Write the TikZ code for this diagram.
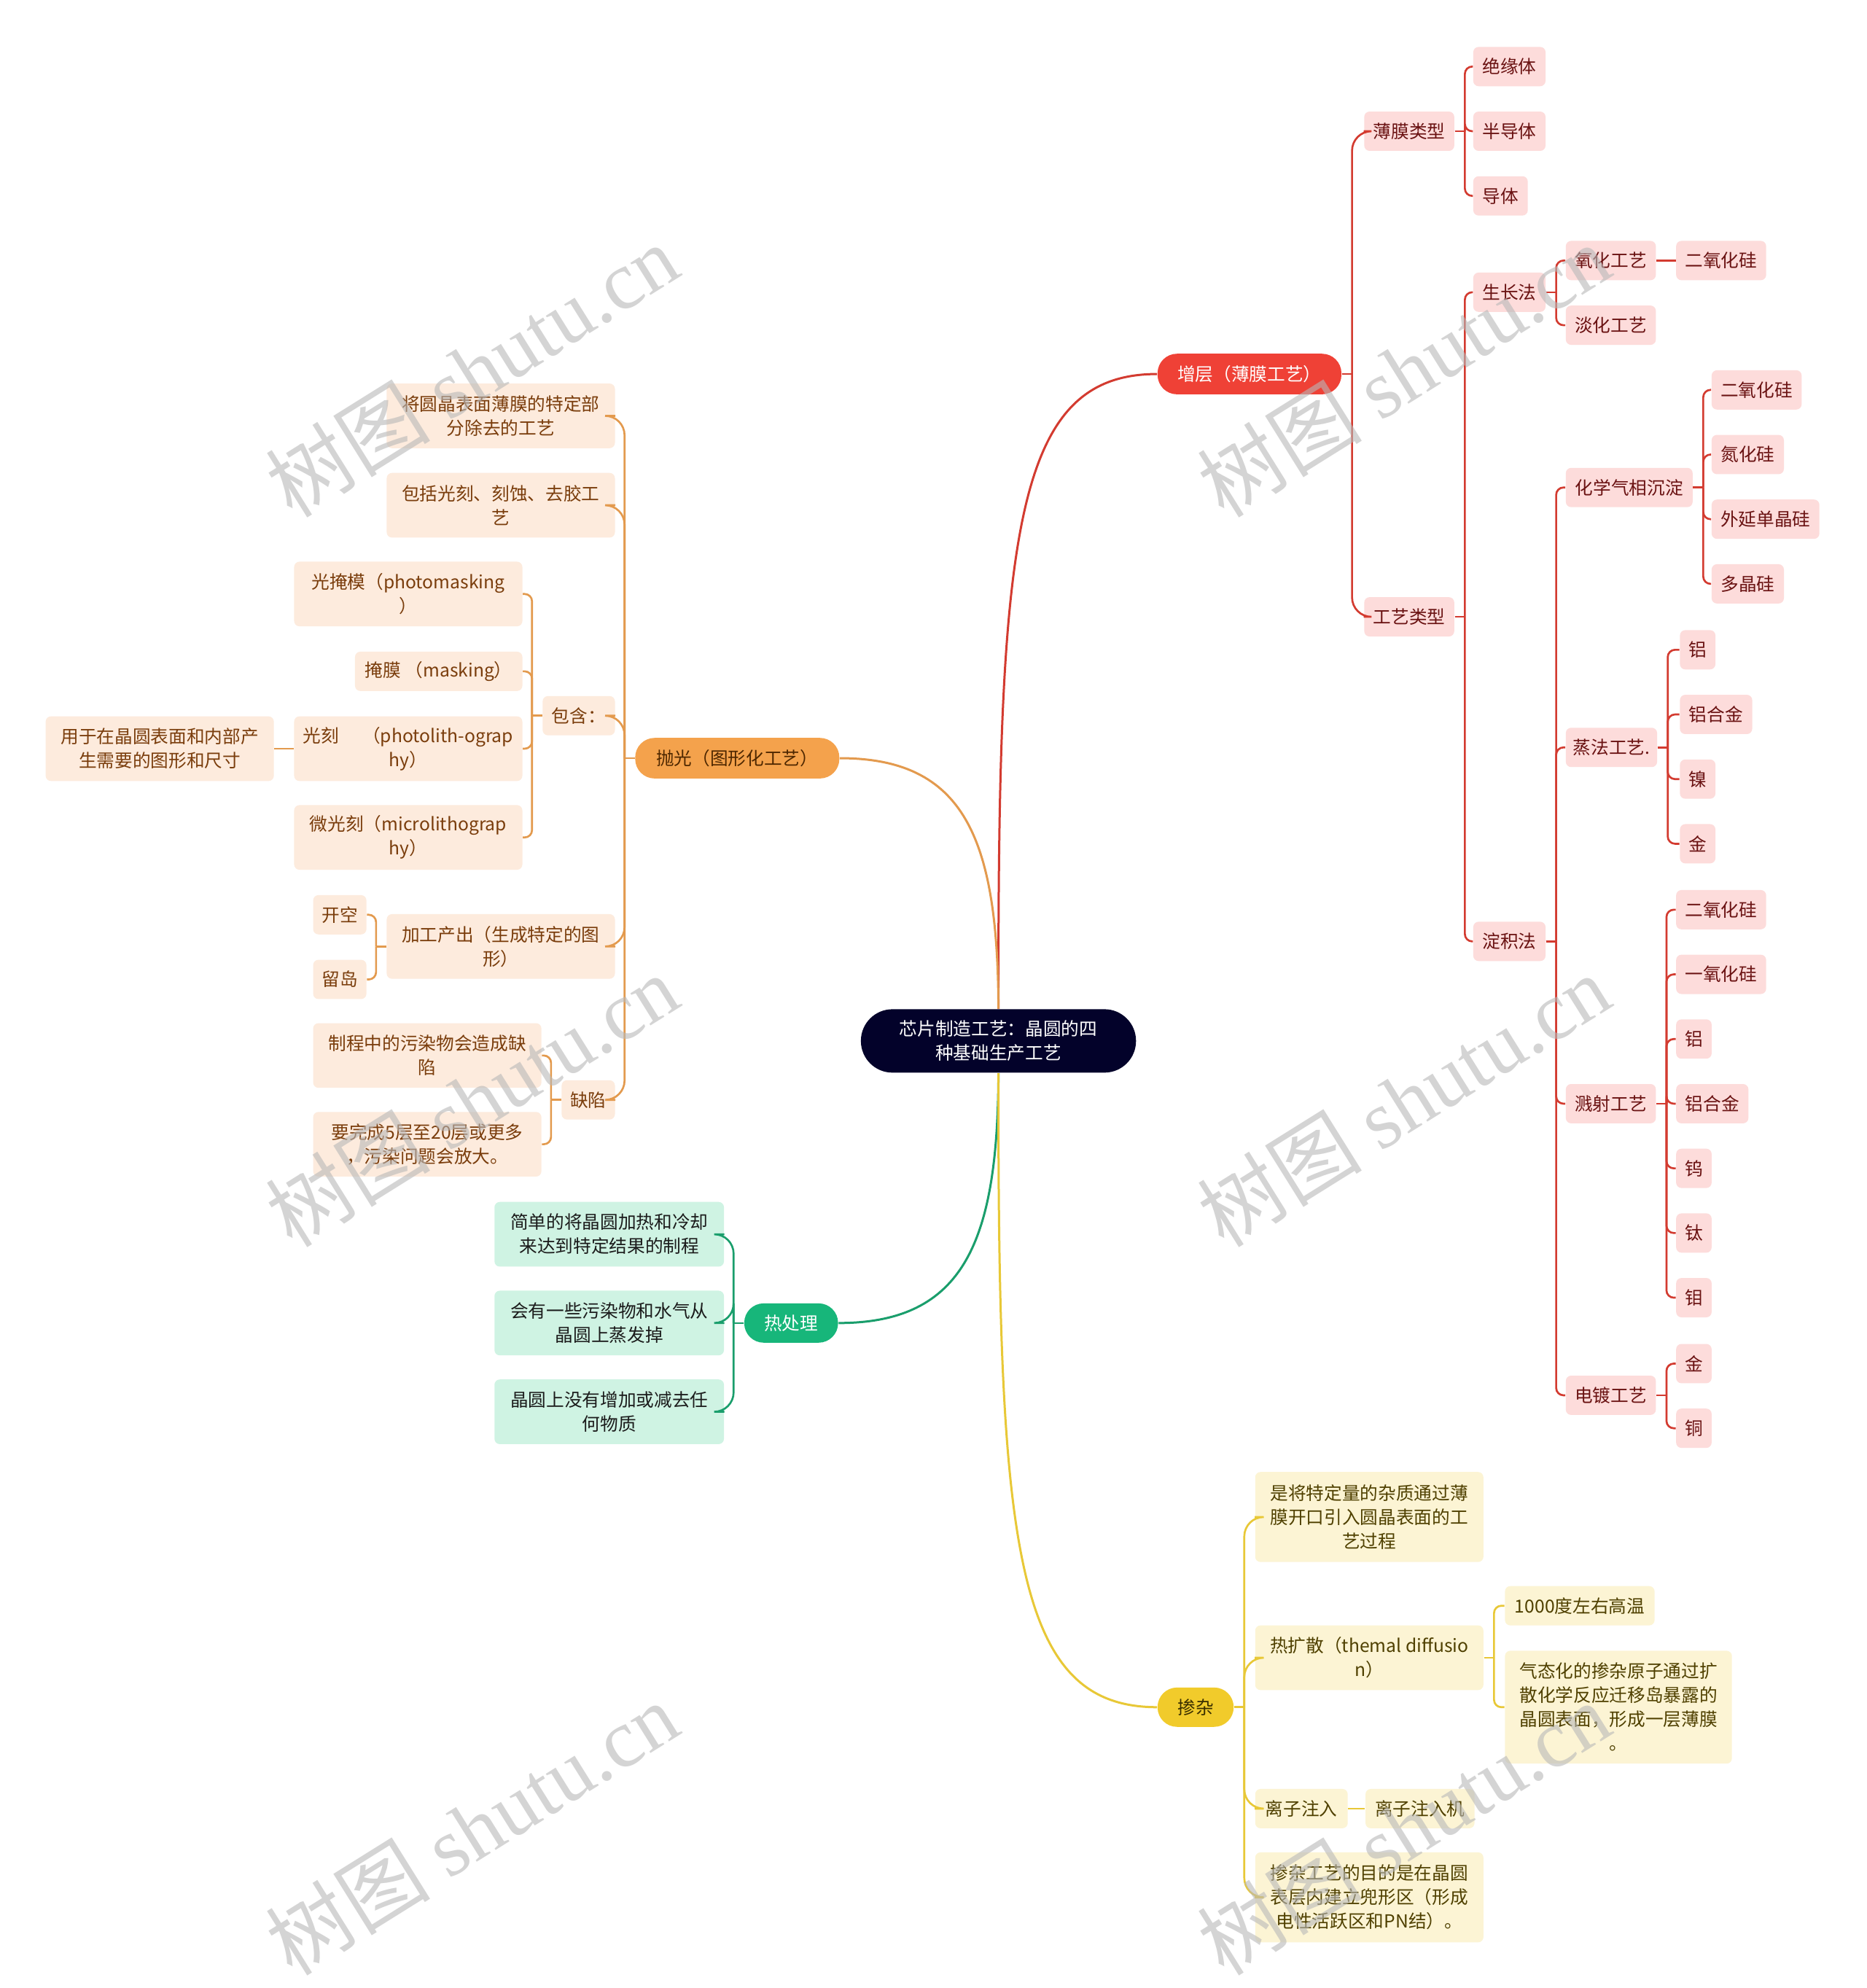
\documentclass[tikz,border=0pt]{standalone}
\usepackage{fontspec}
\setmainfont{Noto Sans CJK SC}
\newfontfamily\wmlat{Liberation Serif}
\usetikzlibrary{calc}
\definecolor{rootc}{HTML}{03022A}
\definecolor{rmain}{HTML}{EF4136}
\definecolor{rfill}{HTML}{FDDCDB}
\definecolor{rtxt}{HTML}{6A1212}
\definecolor{rline}{HTML}{D33B30}
\definecolor{omain}{HTML}{F4A24C}
\definecolor{ofill}{HTML}{FDEBDD}
\definecolor{otxt}{HTML}{7A3D0C}
\definecolor{oline}{HTML}{E39A4E}
\definecolor{omtxt}{HTML}{4E2700}
\definecolor{gmain}{HTML}{17B67A}
\definecolor{gfill}{HTML}{CFF3E3}
\definecolor{gtxt}{HTML}{1B1B1B}
\definecolor{gline}{HTML}{1A9E6C}
\definecolor{ymain}{HTML}{F1CB2B}
\definecolor{yfill}{HTML}{FCF4D4}
\definecolor{ytxt}{HTML}{4F4000}
\definecolor{yline}{HTML}{E8C837}
\definecolor{ymtxt}{HTML}{3A2F00}
\definecolor{wmc}{HTML}{B8B8B8}
\newcommand\nfs{\fontsize{7.4pt}{9.9pt}\selectfont}
\newcommand\lnkR[3]{\draw[#1] (#2.east) -- ++(8,0); \draw[#1] ($(#2.east)+(8,0)$) |- (#3.west);}
\newcommand\lnkL[3]{\draw[#1] (#2.west) -- ++(-8,0); \draw[#1] ($(#2.west)+(-8,0)$) |- (#3.east);}
\tikzset{
  base/.style={rectangle, rounded corners=2.2pt, inner sep=0pt, align=center, font=\nfs},
  rbox/.style={base, fill=rfill, text=rtxt},
  obox/.style={base, fill=ofill, text=otxt},
  gbox/.style={base, fill=gfill, text=gtxt},
  ybox/.style={base, fill=yfill, text=ytxt},
  mbox/.style={rectangle, rounded corners=8pt, inner sep=0pt, align=center, font=\nfs},
  bw/.style={minimum width=#1*0.52174pt},
  bh/.style={minimum height=#1*0.52174pt},
  rl/.style={draw=rline, line width=0.8pt, rounded corners=3pt},
  ol/.style={draw=oline, line width=0.8pt, rounded corners=3pt},
  gl/.style={draw=gline, line width=0.8pt, rounded corners=3pt},
  yl/.style={draw=yline, line width=0.8pt, rounded corners=3pt},
  rl1/.style={rl, rounded corners=8pt},
  ol1/.style={ol, rounded corners=8pt},
  gl1/.style={gl, rounded corners=8pt},
  yl1/.style={yl, rounded corners=8pt},
  wmark/.style={rotate=32, text=wmc, opacity=0.6, inner sep=0pt}
}
\begin{document}
\begin{tikzpicture}[x=0.52174pt,y=-0.52174pt]
\useasboundingbox[fill=white] (0,0) rectangle (1472,1568);

% root and main branches
\node[mbox, rounded corners=13pt, fill=rootc, text=white, bw=217, bh=50] (root) at (787.5,821) {芯片制造工艺：晶圆的四\\种基础生产工艺};
\node[mbox, fill=rmain, text=white, bw=145, bh=32] (zc) at (985.5,295) {增层（薄膜工艺）};
\node[mbox, fill=omain, text=omtxt, bw=161, bh=32] (pg) at (581.5,598) {抛光（图形化工艺）};
\node[mbox, fill=gmain, text=white, bw=74, bh=31] (rcl) at (624,1043.5) {热处理};
\node[mbox, fill=ymain, text=ymtxt, bw=60, bh=31] (cz) at (943,1346.5) {掺杂};

% red subtree
\node[rbox, bw=71, bh=31] (tm) at (1111.5,103.5) {薄膜类型};
\node[rbox, bw=57, bh=31] (jyt) at (1190.5,52.5) {绝缘体};
\node[rbox, bw=57, bh=31] (bdt) at (1190.5,103.5) {半导体};
\node[rbox, bw=43, bh=31] (dt) at (1183.5,154.5) {导体};
\node[rbox, bw=71, bh=31] (gylx) at (1111.5,486.5) {工艺类型};
\node[rbox, bw=57, bh=31] (szf) at (1190.5,230.5) {生长法};
\node[rbox, bw=71, bh=31] (yh) at (1270.5,205.5) {氧化工艺};
\node[rbox, bw=71, bh=31] (eyha) at (1357.5,205.5) {二氧化硅};
\node[rbox, bw=71, bh=31] (dh) at (1270.5,256.5) {淡化工艺};
\node[rbox, bw=57, bh=31] (djf) at (1190.5,742.5) {淀积法};
\node[rbox, bw=100, bh=31] (cvd) at (1285,384.5) {化学气相沉淀};
\node[rbox, bw=71, bh=31] (eyhb) at (1385.5,307.5) {二氧化硅};
\node[rbox, bw=57, bh=31] (dhg) at (1378.5,358.5) {氮化硅};
\node[rbox, bw=85, bh=31] (wy) at (1392.5,409.5) {外延单晶硅};
\node[rbox, bw=57, bh=31] (djg) at (1378.5,460.5) {多晶硅};
\node[rbox, bw=72, bh=31] (zf) at (1271,589.5) {蒸法工艺.};
\node[rbox, bw=28, bh=31] (lva) at (1339,512.5) {铝};
\node[rbox, bw=57, bh=31] (lhja) at (1353.5,563.5) {铝合金};
\node[rbox, bw=28, bh=31] (nie) at (1339,614.5) {镍};
\node[rbox, bw=28, bh=31] (jina) at (1339,665.5) {金};
\node[rbox, bw=71, bh=31] (js) at (1270.5,870.5) {溅射工艺};
\node[rbox, bw=71, bh=31] (eyhc) at (1357.5,717.5) {二氧化硅};
\node[rbox, bw=71, bh=31] (yyh) at (1357.5,768.5) {一氧化硅};
\node[rbox, bw=28, bh=31] (lvb) at (1336,819.5) {铝};
\node[rbox, bw=57, bh=31] (lhjb) at (1350.5,870.5) {铝合金};
\node[rbox, bw=28, bh=31] (wu) at (1336,921.5) {钨};
\node[rbox, bw=28, bh=31] (tai) at (1336,972.5) {钛};
\node[rbox, bw=28, bh=31] (mu) at (1336,1023.5) {钼};
\node[rbox, bw=71, bh=31] (dd) at (1270.5,1100.5) {电镀工艺};
\node[rbox, bw=28, bh=31] (jinb) at (1336,1075.5) {金};
\node[rbox, bw=28, bh=31] (tong) at (1336,1126.5) {铜};

% orange subtree
\node[obox, bw=180, bh=51] (oa) at (395,328) {将圆晶表面薄膜的特定部\\分除去的工艺};
\node[obox, bw=180, bh=51] (ob) at (395,398.5) {包括光刻、刻蚀、去胶工\\艺};
\node[obox, bw=57, bh=31] (bh) at (456.5,564.5) {包含：};
\node[obox, bw=180, bh=51] (gym) at (322,468.5) {光掩模（photomasking\\）};
\node[obox, bw=132, bh=31] (ym) at (346,529.5) {掩膜 （masking）};
\node[obox, bw=180, bh=51] (gk) at (322,590.5) {光刻\hspace{1.3em}（photolith-ograp\\hy）};
\node[obox, bw=180, bh=51] (yy) at (126,590.5) {用于在晶圆表面和内部产\\生需要的图形和尺寸};
\node[obox, bw=180, bh=51] (wgk) at (322,660.5) {微光刻（microlithograp\\hy）};
\node[obox, bw=180, bh=51] (jg) at (395,746.5) {加工产出（生成特定的图\\形）};
\node[obox, bw=42, bh=31] (kk) at (268,721.5) {开空};
\node[obox, bw=42, bh=31] (ld) at (268,772.5) {留岛};
\node[obox, bw=42, bh=31] (qx) at (464,867.5) {缺陷};
\node[obox, bw=180, bh=51] (qa) at (337,832.5) {制程中的污染物会造成缺\\陷};
\node[obox, bw=180, bh=51] (qb) at (337,902.5) {要完成5层至20层或更多\\，污染问题会放大。};

% green subtree
\node[gbox, bw=181, bh=51] (ga) at (480.5,973.5) {简单的将晶圆加热和冷却\\来达到特定结果的制程};
\node[gbox, bw=181, bh=51] (gb) at (480.5,1043.5) {会有一些污染物和水气从\\晶圆上蒸发掉};
\node[gbox, bw=181, bh=51] (gc) at (480.5,1113.5) {晶圆上没有增加或减去任\\何物质};

% yellow subtree
\node[ybox, bw=180, bh=71] (ya) at (1080,1196.5) {是将特定量的杂质通过薄\\膜开口引入圆晶表面的工\\艺过程};
\node[ybox, bw=180, bh=51] (yb) at (1080,1307.5) {热扩散（themal diffusio\\n）};
\node[ybox, bw=118, bh=31] (yc) at (1246,1266.5) {1000度左右高温};
\node[ybox, bw=179, bh=89] (yd) at (1276.5,1346.5) {气态化的掺杂原子通过扩\\散化学反应迁移岛暴露的\\晶圆表面，形成一层薄膜\\。};
\node[ybox, bw=73, bh=31] (ye) at (1026.5,1426.5) {离子注入};
\node[ybox, bw=86, bh=31] (yf) at (1120,1426.5) {离子注入机};
\node[ybox, bw=180, bh=71] (yg) at (1080,1496.5) {掺杂工艺的目的是在晶圆\\表层内建立兜形区（形成\\电性活跃区和PN结）。};

% root connectors
\draw[rline, line width=0.9pt] (root.north) .. controls (787,420) and (800,295) .. (zc.west);
\draw[oline, line width=0.9pt] (root.north) .. controls (787,660) and (760,598) .. (pg.east);
\draw[gline, line width=0.9pt] (root.south) .. controls (787,980) and (760,1043.5) .. (rcl.east);
\draw[yline, line width=0.9pt] (root.south) .. controls (787,1220) and (800,1346.5) .. (cz.west);

% red links
\lnkR{rl1}{zc}{tm}
\lnkR{rl1}{zc}{gylx}
\lnkR{rl}{tm}{jyt}
\lnkR{rl}{tm}{bdt}
\lnkR{rl}{tm}{dt}
\lnkR{rl}{gylx}{szf}
\lnkR{rl}{gylx}{djf}
\lnkR{rl}{szf}{yh}
\lnkR{rl}{szf}{dh}
\draw[rl] (yh.east) -- (eyha.west);
\lnkR{rl}{djf}{cvd}
\lnkR{rl}{djf}{zf}
\lnkR{rl}{djf}{js}
\lnkR{rl}{djf}{dd}
\lnkR{rl}{cvd}{eyhb}
\lnkR{rl}{cvd}{dhg}
\lnkR{rl}{cvd}{wy}
\lnkR{rl}{cvd}{djg}
\lnkR{rl}{zf}{lva}
\lnkR{rl}{zf}{lhja}
\lnkR{rl}{zf}{nie}
\lnkR{rl}{zf}{jina}
\lnkR{rl}{js}{eyhc}
\lnkR{rl}{js}{yyh}
\lnkR{rl}{js}{lvb}
\lnkR{rl}{js}{lhjb}
\lnkR{rl}{js}{wu}
\lnkR{rl}{js}{tai}
\lnkR{rl}{js}{mu}
\lnkR{rl}{dd}{jinb}
\lnkR{rl}{dd}{tong}

% orange links
\lnkL{ol1}{pg}{oa}
\lnkL{ol1}{pg}{ob}
\lnkL{ol1}{pg}{bh}
\lnkL{ol1}{pg}{jg}
\lnkL{ol1}{pg}{qx}
\lnkL{ol}{bh}{gym}
\lnkL{ol}{bh}{ym}
\lnkL{ol}{bh}{gk}
\lnkL{ol}{bh}{wgk}
\draw[ol] (gk.west) -- (yy.east);
\lnkL{ol}{jg}{kk}
\lnkL{ol}{jg}{ld}
\lnkL{ol}{qx}{qa}
\lnkL{ol}{qx}{qb}

% green links
\lnkL{gl1}{rcl}{ga}
\lnkL{gl1}{rcl}{gb}
\lnkL{gl1}{rcl}{gc}

% yellow links
\lnkR{yl1}{cz}{ya}
\lnkR{yl1}{cz}{yb}
\lnkR{yl1}{cz}{ye}
\lnkR{yl1}{cz}{yg}
\lnkR{yl}{yb}{yc}
\lnkR{yl}{yb}{yd}
\draw[yl] (ye.east) -- (yf.west);

% watermarks
\node[wmark] (wma) at (372,292) {\fontsize{34pt}{34pt}\selectfont 树图 {\wmlat shutu.cn}};
\node[wmark] (wmb) at (1107,292) {\fontsize{34pt}{34pt}\selectfont 树图 {\wmlat shutu.cn}};
\node[wmark] (wmc) at (372,868) {\fontsize{34pt}{34pt}\selectfont 树图 {\wmlat shutu.cn}};
\node[wmark] (wmd) at (1107,868) {\fontsize{34pt}{34pt}\selectfont 树图 {\wmlat shutu.cn}};
\node[wmark] (wme) at (372,1442) {\fontsize{34pt}{34pt}\selectfont 树图 {\wmlat shutu.cn}};
\node[wmark] (wmf) at (1107,1442) {\fontsize{34pt}{34pt}\selectfont 树图 {\wmlat shutu.cn}};
\end{tikzpicture}
\end{document}
